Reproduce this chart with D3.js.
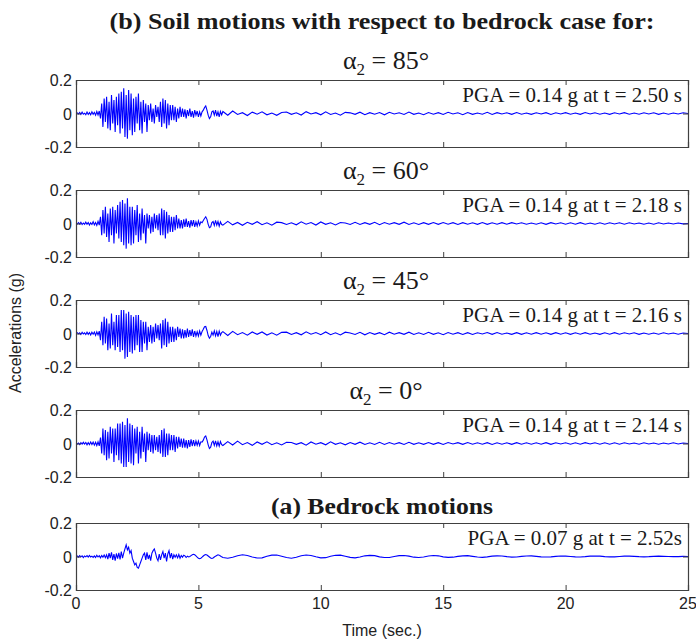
<!DOCTYPE html>
<html lang="en">

<head>
    <meta charset="UTF-8">
    <title>Soil and bedrock motions</title>
    <script src="https://d3js.org/d3.v7.min.js"></script>
    <style>
        body {
            margin: 0;
            background: #fff;
        }

        svg {
            display: block;
        }

        .tick-label {
            font-family: "Liberation Sans", Arial, sans-serif;
            font-size: 16px;
            fill: #222;
        }

        .serif {
            font-family: "Liberation Serif", "Times New Roman", serif;
            fill: #1a1a1a;
        }
    </style>
</head>

<body>
    <svg></svg>
    <script>
        // sampling: strong part from t = 0 at 0.05 s, tail from t = 6 s at 0.2 s
        const DT_STRONG = 0.05;
        const TAIL_START = 6.0;
        const DT_TAIL = 0.2;

        const xTicks = [0, 5, 10, 15, 20, 25];
        const yTicks = [-0.2, 0, 0.2];

        const panelTitles = ["85°", "60°", "45°", "0°", null];
        const pgaLabels = [
            "PGA = 0.14 g at t = 2.50 s",
            "PGA = 0.14 g at t = 2.18 s",
            "PGA = 0.14 g at t = 2.16 s",
            "PGA = 0.14 g at t = 2.14 s",
            "PGA = 0.07 g at t = 2.52s"
        ];

        const soil85Strong = [
            0, 0.004, -0.003, 0.006, -0.005, 0.008, -0.004, 0.002, -0.007, 0.009, -0.006, 0.005, -0.008, 0.01, -0.005, 0.007, -0.01, 0.012, -0.009, 0.015,
            -0.03, 0.06, -0.08, 0.09, -0.05, 0.1, -0.09, 0.07, -0.1, 0.11, -0.06, 0.08, -0.11, 0.1, -0.07, 0.12,
            -0.12, 0.13, -0.09, 0.15, -0.14, 0.11, -0.15, 0.14, -0.1, 0.12,
            -0.13, 0.09, -0.11, 0.1, -0.06, 0.12, -0.1, 0.07, -0.12, 0.08, -0.05, 0.06, -0.11, 0.05,
            -0.04, 0.06, -0.05, 0.03, -0.06, 0.05, -0.02, 0.04, -0.05, 0.07,
            -0.08, 0.09, -0.06, 0.08, -0.09, 0.06, -0.07, 0.05, -0.04,
            0.05, -0.04, 0.04, -0.05, 0.03, -0.03, 0.04, -0.02,
            0.03, -0.02, 0.025, -0.03, 0.02, -0.015, 0.03, -0.02, 0.015, -0.025, 0.02, -0.01, 0.015, -0.02, 0.01, -0.015,
            0.01, 0.02, 0.035, 0.045, 0.02, -0.01, -0.03, -0.02, 0.01,
            0.015, -0.01, 0.02, -0.015, 0.01, -0.02, 0.012, -0.008
        ];
        const soil85Tail = [
            0.012, -0.01, 0.015, -0.006, 0.005, -0.012, 0.008, -0.004, 0.01, -0.008,
            0.003, -0.011, 0.006, 0.009, -0.005, 0.004, -0.009, 0.011, -0.003, 0.005,
            -0.008, 0.01, -0.006, 0.003, -0.01, 0.007, 0.004, -0.005, 0.008, -0.007,
            0.005, -0.004, 0.006, -0.008, 0.007, -0.003, 0.004, -0.006, 0.009, -0.005,
            0.003, -0.007, 0.006, -0.004, 0.005, -0.006, 0.007, -0.003, 0.004, -0.007,
            0.006, -0.005, 0.003, -0.004, 0.007, -0.006, 0.005, -0.003, 0.004, -0.005,
            0.006, -0.004, 0.003, -0.005, 0.004, -0.003, 0.005, -0.006, 0.004, -0.003,
            0.005, -0.004, 0.003, -0.005, 0.006, -0.003, 0.004, -0.004, 0.003, -0.005,
            0.004, -0.003, 0.005, -0.004, 0.003, -0.004, 0.004, -0.003, 0.004, -0.005,
            0.003, -0.004, 0.003, -0.003, 0.004, 0
        ];

        const soil60Strong = [
            0, -0.003, 0.005, -0.004, 0.007, -0.006, 0.003, -0.005, 0.008, -0.004, 0.006, -0.009, 0.004, -0.006, 0.011, -0.008, 0.006, -0.011, 0.013, -0.01,
            0.04, -0.07, 0.08, -0.06, 0.1, -0.08, 0.06, -0.11, 0.09, -0.07, 0.1, -0.12, 0.08, -0.06, 0.11, -0.09,
            0.13, -0.11, 0.14, -0.13, 0.12, -0.15, 0.15, -0.12, 0.1, -0.13,
            0.1, -0.12, 0.08, -0.07, 0.11, -0.11, 0.06, -0.1, 0.09, -0.06, 0.05, -0.12, 0.06, -0.03,
            0.05, -0.06, 0.04, -0.05, 0.06, -0.03, 0.05, -0.04, 0.06, -0.07,
            0.09, -0.07, 0.08, -0.09, 0.07, -0.06, 0.05, -0.05, 0.04,
            -0.05, 0.04, -0.04, 0.05, -0.03, 0.03, -0.03, 0.02,
            -0.03, 0.025, -0.02, 0.03, -0.02, 0.015, -0.025, 0.02, -0.015, 0.02, -0.02, 0.01, -0.015, 0.015, -0.01, 0.01,
            0.005, 0.018, 0.03, 0.04, 0.025, -0.005, -0.025, -0.02, 0.005,
            0.012, -0.012, 0.018, -0.01, 0.012, -0.016, 0.01, -0.006
        ];
        const soil60Tail = [
            -0.01, 0.013, -0.008, 0.006, -0.011, 0.007, -0.005, 0.011, -0.007, 0.004,
            -0.01, 0.008, 0.005, -0.006, 0.004, -0.008, 0.01, -0.004, 0.006, -0.009,
            0.009, -0.005, 0.004, -0.009, 0.006, 0.003, -0.006, 0.007, -0.006, 0.005,
            -0.005, 0.007, -0.007, 0.006, -0.004, 0.005, -0.005, 0.008, -0.006, 0.004,
            -0.006, 0.005, -0.005, 0.006, -0.005, 0.006, -0.004, 0.005, -0.006, 0.005,
            -0.004, 0.004, -0.005, 0.006, -0.005, 0.004, -0.004, 0.005, -0.004, 0.005,
            -0.003, 0.004, -0.004, 0.003, -0.004, 0.004, -0.005, 0.005, -0.003, 0.004,
            -0.004, 0.004, -0.004, 0.005, -0.004, 0.003, -0.004, 0.004, -0.004, 0.004,
            -0.003, 0.004, -0.004, 0.004, -0.003, 0.003, -0.004, 0.003, -0.004, 0.004,
            -0.003, 0.003, -0.003, 0.003, -0.002, 0
        ];

        const soil45Strong = [
            0, 0.005, -0.002, 0.004, -0.006, 0.007, -0.003, 0.004, -0.006, 0.008, -0.005, 0.006, -0.009, 0.008, -0.004, 0.009, -0.011, 0.01, -0.008, 0.014,
            -0.04, 0.07, -0.07, 0.1, -0.06, 0.09, -0.1, 0.06, -0.09, 0.12, -0.07, 0.07, -0.1, 0.11, -0.08, 0.11,
            -0.11, 0.14, -0.1, 0.14, -0.15, 0.12, -0.14, 0.13, -0.11, 0.11,
            -0.12, 0.1, -0.1, 0.11, -0.07, 0.11, -0.11, 0.08, -0.11, 0.07, -0.06, 0.07, -0.1, 0.04,
            -0.05, 0.05, -0.06, 0.04, -0.05, 0.06, -0.03, 0.05, -0.04, 0.06,
            -0.09, 0.08, -0.07, 0.09, -0.08, 0.07, -0.06, 0.04, -0.05,
            0.04, -0.05, 0.03, -0.04, 0.04, -0.02, 0.03, -0.03,
            0.025, -0.03, 0.02, -0.025, 0.03, -0.02, 0.02, -0.015, 0.025, -0.02, 0.015, -0.015, 0.01, -0.015, 0.015, -0.01,
            0.012, 0.025, 0.04, 0.042, 0.018, -0.012, -0.028, -0.018, 0.008,
            -0.01, 0.016, -0.014, 0.012, -0.018, 0.014, -0.01, 0.006
        ];
        const soil45Tail = [
            0.011, -0.012, 0.013, -0.007, 0.006, -0.01, 0.009, -0.005, 0.009, -0.009,
            0.004, -0.01, 0.007, 0.008, -0.006, 0.005, -0.008, 0.01, -0.004, 0.006,
            -0.007, 0.009, -0.007, 0.004, -0.009, 0.008, 0.003, -0.006, 0.007, -0.008,
            0.006, -0.005, 0.005, -0.007, 0.008, -0.004, 0.005, -0.005, 0.008, -0.006,
            0.004, -0.006, 0.007, -0.005, 0.004, -0.007, 0.006, -0.004, 0.005, -0.006,
            0.005, -0.006, 0.004, -0.003, 0.006, -0.005, 0.006, -0.004, 0.003, -0.005,
            0.005, -0.005, 0.004, -0.004, 0.005, -0.004, 0.004, -0.005, 0.005, -0.004,
            0.004, -0.005, 0.004, -0.004, 0.005, -0.004, 0.003, -0.005, 0.004, -0.004,
            0.005, -0.004, 0.004, -0.003, 0.004, -0.005, 0.003, -0.004, 0.003, -0.004,
            0.004, -0.003, 0.003, -0.004, 0.003, 0
        ];

        const soil0Strong = [
            0, -0.004, 0.003, -0.006, 0.005, -0.004, 0.007, -0.003, 0.006, -0.008, 0.005, -0.007, 0.009, -0.006, 0.008, -0.01, 0.007, -0.012, 0.01, -0.014,
            0.035, -0.06, 0.09, -0.07, 0.08, -0.1, 0.07, -0.09, 0.1, -0.06, 0.09, -0.11, 0.09, -0.07, 0.12, -0.1,
            0.12, -0.12, 0.13, -0.14, 0.11, -0.14, 0.15, -0.11, 0.12, -0.12,
            0.11, -0.13, 0.09, -0.06, 0.1, -0.12, 0.07, -0.09, 0.1, -0.05, 0.06, -0.11, 0.07, -0.04,
            0.06, -0.05, 0.05, -0.06, 0.05, -0.04, 0.04, -0.05, 0.05, -0.06,
            0.08, -0.08, 0.09, -0.08, 0.06, -0.07, 0.06, -0.04, 0.05,
            -0.04, 0.05, -0.05, 0.04, -0.03, 0.04, -0.02, 0.03,
            -0.025, 0.03, -0.025, 0.02, -0.03, 0.02, -0.02, 0.025, -0.015, 0.02, -0.015, 0.015, -0.01, 0.015, -0.012, 0.01,
            0.008, 0.02, 0.038, 0.045, 0.022, -0.008, -0.03, -0.022, 0.006,
            0.014, -0.012, 0.016, -0.014, 0.01, -0.016, 0.012, -0.007
        ];
        const soil0Tail = [
            -0.012, 0.011, -0.009, 0.014, -0.007, 0.006, -0.011, 0.009, -0.005, 0.01,
            -0.007, 0.004, -0.009, 0.007, 0.006, -0.005, 0.005, -0.01, 0.009, -0.004,
            0.005, -0.008, 0.01, -0.005, 0.004, -0.008, 0.006, -0.005, 0.008, -0.006,
            0.004, -0.006, 0.007, -0.006, 0.006, -0.004, 0.005, -0.006, 0.007, -0.005,
            0.004, -0.005, 0.006, -0.005, 0.005, -0.006, 0.006, -0.003, 0.005, -0.005,
            0.006, -0.004, 0.004, -0.004, 0.005, -0.006, 0.004, -0.004, 0.004, -0.005,
            0.005, -0.004, 0.004, -0.004, 0.004, -0.004, 0.005, -0.005, 0.004, -0.003,
            0.004, -0.004, 0.004, -0.004, 0.005, -0.003, 0.004, -0.004, 0.004, -0.004,
            0.004, -0.004, 0.004, -0.003, 0.003, -0.004, 0.004, -0.003, 0.003, -0.004,
            0.003, -0.003, 0.004, -0.003, 0.003, 0
        ];

        const bedrockStrong = [
            0, 0.003, -0.004, 0.005, -0.002, 0.004, -0.006, 0.003, -0.002, 0.005, -0.004, 0.006, -0.003, 0.002, -0.005, 0.004, -0.006, 0.007, -0.003, 0.005, -0.008, 0.006, -0.004, 0.009, -0.007, 0.01,
            -0.015, 0.02, -0.01, 0.025, -0.02, 0.015, -0.025, 0.018, -0.012, 0.022, -0.018, 0.03, -0.01, 0.02,
            0.045, 0.07, 0.04, 0.055, 0.02, 0.035, -0.01,
            -0.03, -0.05, -0.04, -0.065, -0.07, -0.05, -0.03, -0.01, 0.01,
            0.02, -0.02, 0.025, -0.015, 0.01, -0.025, 0.02, 0.035, 0.045, 0.02, -0.01, -0.025, 0.015, -0.02,
            0.01, 0.03, -0.01, 0.02, -0.03, 0.015, 0.035, -0.01, 0.02, -0.015, 0.01, -0.005,
            0.01, -0.008, 0.012, -0.01, 0.006, -0.004, 0.008, 0.004, -0.006, 0.002, -0.003,
            0, 0.005, 0.01, 0.013, 0.01, 0.004, -0.004, -0.01, -0.013, -0.01, -0.004, 0.003, 0.009, 0.012, 0.009, 0.003, -0.003, -0.009, -0.012, -0.009, -0.003, 0.002, 0.006, 0.01, 0.008, 0.003, -0.002
        ];
        const bedrockTail = [
            -0.006, -0.01, -0.004, 0.005, 0.01, 0.006, -0.003, -0.009, -0.008, 0.001,
            0.008, 0.009, 0.002, -0.006, -0.01, -0.004, 0.004, 0.009, 0.006, -0.002,
            -0.008, -0.007, 0.001, 0.007, 0.008, 0.002, -0.005, -0.008, -0.003, 0.004,
            0.007, 0.005, -0.002, -0.006, -0.006, 0, 0.005, 0.006, 0.002, -0.004,
            -0.006, -0.003, 0.003, 0.006, 0.004, -0.002, -0.005, -0.004, 0.001, 0.004,
            0.005, 0.001, -0.003, -0.005, -0.002, 0.002, 0.004, 0.003, -0.001, -0.004,
            -0.003, 0.001, 0.003, 0.004, 0.001, -0.002, -0.003, -0.002, 0.001, 0.003,
            0.002, 0, -0.002, -0.003, -0.001, 0.002, 0.003, 0.002, -0.001, -0.002,
            -0.002, 0, 0.002, 0.002, 0.001, -0.001, -0.002, -0.001, 0.001, 0.002,
            0.001, 0, -0.001, -0.001, 0.001, 0
        ];

        const seriesStrong = [soil85Strong, soil60Strong, soil45Strong, soil0Strong, bedrockStrong];
        const seriesTail = [soil85Tail, soil60Tail, soil45Tail, soil0Tail, bedrockTail];

        const width = 696;
        const height = 642;
        const plotLeft = 76;
        const plotRight = 688;
        const panelTops = [80, 190, 300, 410, 523];
        const panelHeight = 67;
        const tickLen = 5;

        const svg = d3.select("svg").attr("width", width).attr("height", height);

        const x = d3.scaleLinear().domain([0, 25]).range([plotLeft, plotRight]);
        const cx = (plotLeft + plotRight) / 2;

        function toPoints(strong, tail) {
            const pts = strong.map((a, i) => ({ t: i * DT_STRONG, a }));
            tail.forEach((a, i) => pts.push({ t: TAIL_START + i * DT_TAIL, a }));
            return pts;
        }

        // main heading
        svg.append("text")
            .attr("class", "serif")
            .attr("x", cx)
            .attr("y", 29)
            .attr("text-anchor", "middle")
            .attr("font-weight", "bold")
            .attr("font-size", 24)
            .attr("textLength", 545)
            .attr("lengthAdjust", "spacingAndGlyphs")
            .text("(b) Soil motions with respect to bedrock case for:");

        panelTops.forEach((top, k) => {
            const y = d3.scaleLinear().domain([-0.2, 0.2]).range([top + panelHeight, top]);
            const g = svg.append("g");

            svg.append("clipPath").attr("id", "clip" + k)
                .append("rect")
                .attr("x", plotLeft).attr("y", top)
                .attr("width", plotRight - plotLeft).attr("height", panelHeight);

            const line = d3.line().x(d => x(d.t)).y(d => y(d.a));

            g.append("path")
                .datum(toPoints(seriesStrong[k], seriesTail[k]))
                .attr("clip-path", `url(#clip${k})`)
                .attr("fill", "none")
                .attr("stroke", "#0000ff")
                .attr("stroke-width", 1.1)
                .attr("d", line);

            // boxed axes, ticks pointing inward
            const bottom = g.append("g").attr("transform", `translate(0,${top + panelHeight})`)
                .call(d3.axisTop(x).tickValues(xTicks).tickSize(tickLen).tickFormat(""));
            const topAx = g.append("g").attr("transform", `translate(0,${top})`)
                .call(d3.axisBottom(x).tickValues(xTicks).tickSize(tickLen).tickFormat(""));
            const leftAx = g.append("g").attr("transform", `translate(${plotLeft},0)`)
                .call(d3.axisRight(y).tickValues(yTicks).tickSize(tickLen).tickFormat(""));
            const rightAx = g.append("g").attr("transform", `translate(${plotRight},0)`)
                .call(d3.axisLeft(y).tickValues(yTicks).tickSize(tickLen).tickFormat(""));
            [bottom, topAx, leftAx, rightAx].forEach(a => {
                a.select(".domain").attr("stroke", "#404040").attr("stroke-width", 1.2);
                a.selectAll(".tick line").attr("stroke", "#404040");
            });

            // y tick labels
            g.selectAll(".ylab")
                .data(yTicks)
                .join("text")
                .attr("class", "tick-label")
                .attr("x", plotLeft - 4)
                .attr("y", d => y(d) + 6)
                .attr("text-anchor", "end")
                .text(d => d === 0 ? "0" : d3.format(".1f")(d).replace("−", "-"));

            // PGA note
            g.append("text")
                .attr("class", "serif")
                .attr("x", plotRight - 6)
                .attr("y", top + 22)
                .attr("text-anchor", "end")
                .attr("font-size", 21)
                .text(pgaLabels[k]);

            // panel heading
            if (panelTitles[k]) {
                const t = g.append("text")
                    .attr("class", "serif")
                    .attr("x", cx + 4)
                    .attr("y", top - 11)
                    .attr("text-anchor", "middle")
                    .attr("font-size", 26);
                t.append("tspan").text("α");
                t.append("tspan").attr("dy", 6).attr("font-size", 17).text("2");
                t.append("tspan").attr("dy", -6).text(" = " + panelTitles[k]);
            } else {
                g.append("text")
                    .attr("class", "serif")
                    .attr("x", cx)
                    .attr("y", top - 9)
                    .attr("text-anchor", "middle")
                    .attr("font-weight", "bold")
                    .attr("font-size", 23)
                    .attr("textLength", 222)
                    .attr("lengthAdjust", "spacingAndGlyphs")
                    .text("(a) Bedrock motions");
            }

            // x tick labels only under the last panel
            if (k === panelTops.length - 1) {
                g.selectAll(".xlab")
                    .data(xTicks)
                    .join("text")
                    .attr("class", "tick-label")
                    .attr("x", d => x(d))
                    .attr("y", top + panelHeight + 19)
                    .attr("text-anchor", "middle")
                    .text(d => d);
            }
        });

        svg.append("text")
            .attr("class", "tick-label")
            .attr("x", cx)
            .attr("y", 636)
            .attr("text-anchor", "middle")
            .text("Time (sec.)");

        svg.append("text")
            .attr("class", "tick-label")
            .attr("transform", `translate(21,333) rotate(-90)`)
            .attr("text-anchor", "middle")
            .text("Accelerations (g)");
    </script>
</body>

</html>
